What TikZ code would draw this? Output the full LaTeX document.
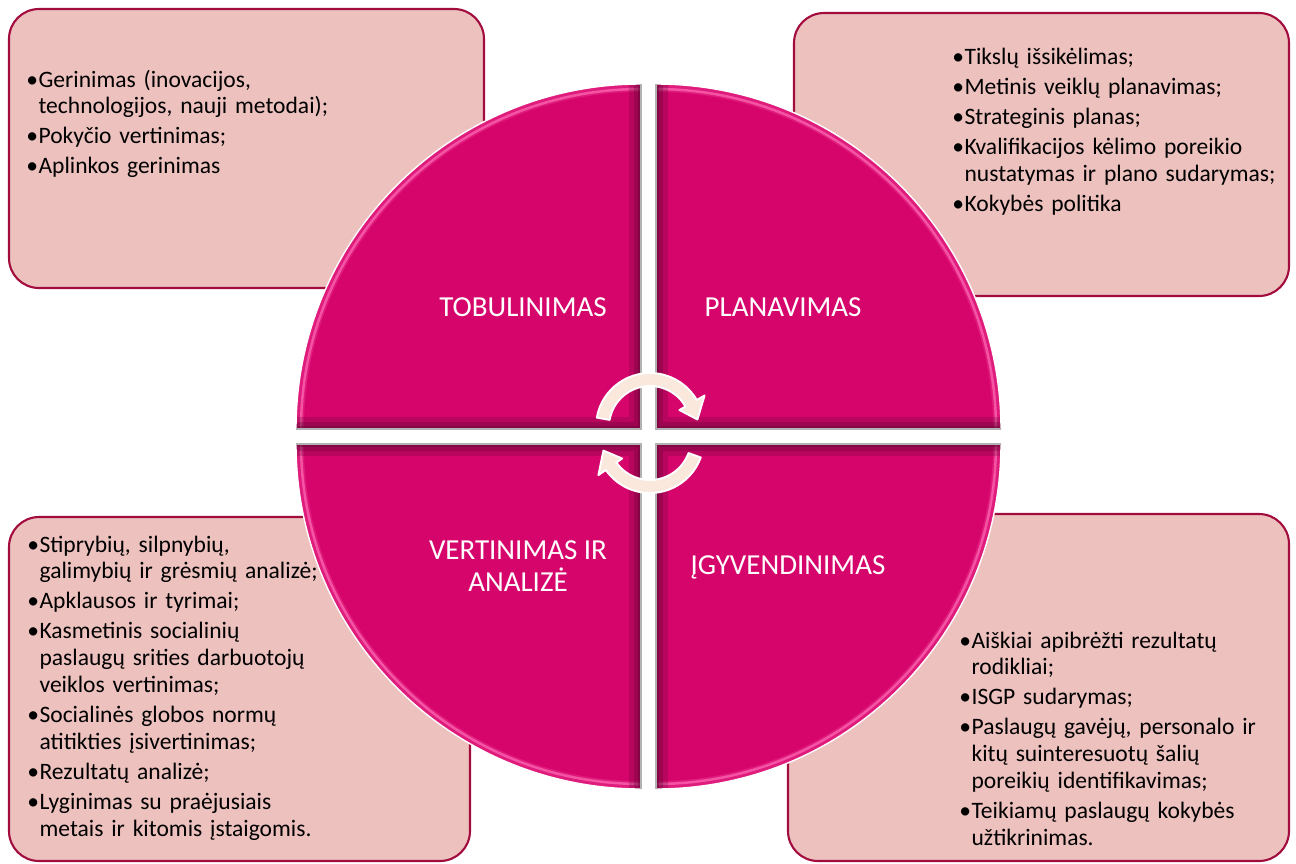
\documentclass[tikz,border=0pt]{standalone}
\usepackage{fontspec}
\setmainfont{Carlito}
\definecolor{quadmag}{RGB}{214,5,108}
\definecolor{rimpink}{RGB}{250,95,172}
\definecolor{bevdark}{RGB}{95,6,50}
\definecolor{boxfill}{RGB}{237,193,190}
\definecolor{boxline}{RGB}{163,12,62}
\definecolor{arrowpeach}{RGB}{250,232,220}
\newcommand{\itm}[1]{\hangindent=0.52em\hangafter=1\noindent\makebox[0.52em][l]{\textbullet}#1\par}
\tikzset{
  infobox/.style={draw=boxline, fill=boxfill, line width=1.2pt, rounded corners=0.6cm},
  infotext/.style={anchor=base west, inner sep=0pt, text width=7cm, align=left,
    font=\fontsize{13.4}{15.3}\selectfont, execute at begin node={\setlength{\parskip}{1.8pt}}},
  phase/.style={text=white, align=center, font=\fontsize{16.5}{18}\selectfont},
  cycarrow/.style={fill=arrowpeach, draw=white, line width=1.1pt, line join=round}
}
\begin{document}
\begin{tikzpicture}[x=0.02cm, y=-0.02cm]
\useasboundingbox (0,0) rectangle (1296,863);
% text boxes behind the circle
\draw[infobox] (9,9) rectangle (484,288);
\draw[infobox] (794,13) rectangle (1289,296);
\draw[infobox] (9,517) rectangle (470,861);
\draw[infobox] (788,514) rectangle (1289,861);
% four quarters
\foreach \cx/\cy/\ang in {641/429/180, 656/429/270, 656/444/0, 641/444/90} {
  \begin{scope}[shift={(\cx,\cy)}]
    \fill[quadmag] (0,0) -- (\ang:345) arc[start angle=\ang, delta angle=90, radius=345] -- cycle;
    \begin{scope}
      \clip (0,0) -- (\ang:345) arc[start angle=\ang, delta angle=90, radius=345] -- cycle;
      \draw[rimpink, line width=9pt, opacity=.25] (\ang:345) arc[start angle=\ang, delta angle=90, radius=345];
      \draw[rimpink, line width=1.4pt, opacity=.85] (\ang:340) arc[start angle=\ang, delta angle=90, radius=340];
      \draw[bevdark, line width=14pt, opacity=.25] (\ang:345) -- (0,0) -- ({\ang+90}:345);
      \draw[bevdark, line width=8pt, opacity=.3] (\ang:345) -- (0,0) -- ({\ang+90}:345);
      \draw[bevdark, line width=3pt, opacity=.4] (\ang:345) -- (0,0) -- ({\ang+90}:345);
    \end{scope}
    \draw[white, line width=.8pt] (\ang:345) arc[start angle=\ang, delta angle=90, radius=345];
    \draw[gray!60, line width=.8pt] (\ang:345) -- (0,0) -- ({\ang+90}:345);
  \end{scope}
}
% cycle arrows
\begin{scope}[shift={(650,427)}]
  \filldraw[cycarrow] (190:54) arc[start angle=190, end angle=330, radius=54] -- (330:63) -- (351:48)
    -- (330:34) -- (330:41) arc[start angle=330, end angle=190, radius=41] -- cycle;
\end{scope}
\begin{scope}[shift={(650,439)}]
  \filldraw[cycarrow] (20:54) arc[start angle=20, end angle=145, radius=54] -- (145:63) -- (166:48)
    -- (145:34) -- (145:41) arc[start angle=145, end angle=20, radius=41] -- cycle;
\end{scope}
% phase names
\node[phase] (tobul) at (523,307) {TOBULINIMAS};
\node[phase] (plan) at (783,307) {PLANAVIMAS};
\node[phase] (vert) at (518,566) {VERTINIMAS IR\\ANALIZĖ};
\node[phase] (igyv) at (788,567) {ĮGYVENDINIMAS};
% lists
\node[infotext] (tobultxt) at (26,87) {%
  \itm{Gerinimas (inovacijos,\break technologijos, nauji metodai);}
  \itm{Pokyčio vertinimas;}
  \itm{Aplinkos gerinimas}};
\node[infotext] (plantxt) at (952,64) {%
  \itm{Tikslų išsikėlimas;}
  \itm{Metinis veiklų planavimas;}
  \itm{Strateginis planas;}
  \itm{Kvalifikacijos kėlimo poreikio\break nustatymas ir plano sudarymas;}
  \itm{Kokybės politika}};
\node[infotext] (verttxt) at (27,552) {%
  \itm{Stiprybių, silpnybių,\break galimybių ir grėsmių analizė;}
  \itm{Apklausos ir tyrimai;}
  \itm{Kasmetinis socialinių\break paslaugų srities darbuotojų\break veiklos vertinimas;}
  \itm{Socialinės globos normų\break atitikties įsivertinimas;}
  \itm{Rezultatų analizė;}
  \itm{Lyginimas su praėjusiais\break metais ir kitomis įstaigomis.}};
\node[infotext] (igyvtxt) at (959,648) {%
  \itm{Aiškiai apibrėžti rezultatų\break rodikliai;}
  \itm{ISGP sudarymas;}
  \itm{Paslaugų gavėjų, personalo ir\break kitų suinteresuotų šalių\break poreikių identifikavimas;}
  \itm{Teikiamų paslaugų kokybės\break užtikrinimas.}};
\end{tikzpicture}
\end{document}
